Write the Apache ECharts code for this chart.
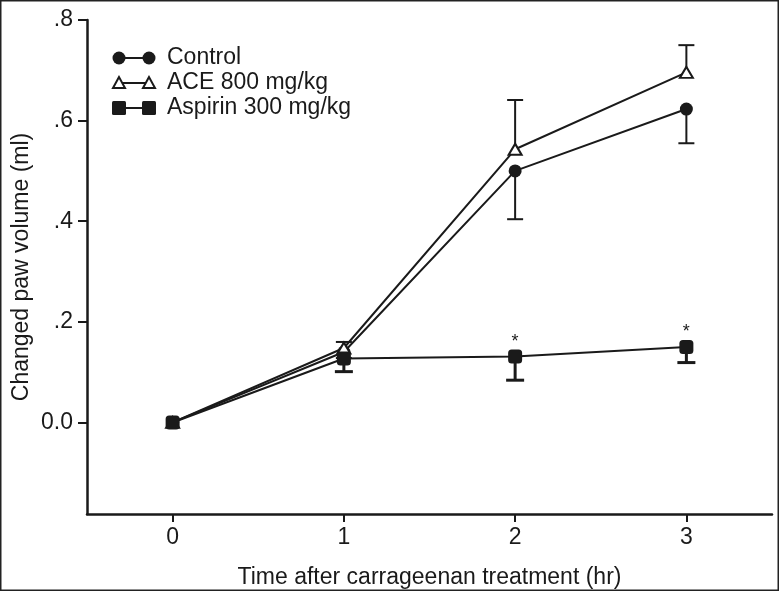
<!DOCTYPE html>
<html><head><meta charset="utf-8">
<script src="https://cdn.jsdelivr.net/npm/echarts@6/dist/echarts.min.js"></script>
<style>html,body{margin:0;padding:0;background:#fff}#c{width:779px;height:591px}</style>
</head><body><div id="c"></div>
<script>
const times = [0, 1, 2, 3];
const xTicks = [0, 1, 2, 3];
const yTicks = [0, 0.2, 0.4, 0.6, 0.8];
const yTickLabels = ['0.0', '.2', '.4', '.6', '.8'];
const control = [0, 0.14, 0.50, 0.623];
const controlSem = [0, 0.012, 0.096, 0.068];
const ace = [0, 0.148, 0.543, 0.696];
const aceSem = [0, 0.012, 0.098, 0.054];
const aspirin = [0, 0.127, 0.131, 0.150];
const aspirinSem = [0, 0.026, 0.047, 0.031];
const sigTimes = [2, 3];
const legendNames = ['Control', 'ACE 800 mg/kg', 'Aspirin 300 mg/kg'];

const FONT = '"Liberation Sans", Arial, sans-serif';
const INK = '#1a1a1a';
const FS = 23;

function pairs(xs, ys) { return xs.map((x, i) => [x, ys[i]]); }
function errData(means, sems, dir) {
  return times.map((t, i) => [t, means[i], means[i] + dir * sems[i]]).filter((d, i) => sems[i] > 0);
}
function errSeries(data, lw, capW) {
  return {
    type: 'custom', data: data, z: 1,
    renderItem: function (params, api) {
      const p0 = api.coord([api.value(0), api.value(1)]);
      const p1 = api.coord([api.value(0), api.value(2)]);
      const st = { stroke: INK, lineWidth: lw };
      return { type: 'group', children: [
        { type: 'line', shape: { x1: p0[0], y1: p0[1], x2: p1[0], y2: p1[1] }, style: st },
        { type: 'line', shape: { x1: p1[0] - capW / 2, y1: p1[1], x2: p1[0] + capW / 2, y2: p1[1] }, style: st }
      ]};
    }
  };
}

const chart = echarts.init(document.getElementById('c'), null, { renderer: 'canvas' });

const legendY = [58, 83, 108];
const legendGraphics = [];
const lx1 = 119, lx2 = 149, ltx = 167;
legendNames.forEach((name, i) => {
  const y = legendY[i];
  legendGraphics.push({ type: 'line', shape: { x1: lx1, y1: y, x2: lx2, y2: y }, style: { stroke: INK, lineWidth: 2 } });
  [lx1, lx2].forEach(x => {
    if (i === 0) legendGraphics.push({ type: 'circle', shape: { cx: x, cy: y, r: 6.5 }, style: { fill: INK } });
    if (i === 1) legendGraphics.push({ type: 'polygon', shape: { points: [[x, y - 6], [x - 6, y + 5], [x + 6, y + 5]] }, style: { fill: '#fff', stroke: INK, lineWidth: 2 } });
    if (i === 2) legendGraphics.push({ type: 'rect', shape: { x: x - 7, y: y - 7, width: 14, height: 14, r: 1.5 }, style: { fill: INK } });
  });
  legendGraphics.push({ type: 'text', x: ltx, y: y, style: { text: name, font: FS + 'px ' + FONT, fill: INK, textVerticalAlign: 'middle' } });
});
legendGraphics.push({ type: 'rect', shape: { x: 0.75, y: 0.75, width: 777.5, height: 589.5 }, style: { fill: 'none', stroke: '#222', lineWidth: 1.5 }, silent: true });

chart.setOption({
  animation: false,
  backgroundColor: '#fff',
  grid: { left: 87, right: 7, top: 20, bottom: 77, containLabel: false, outerBoundsMode: 'none' },
  xAxis: {
    type: 'value', min: -0.5, max: 3.5,
    name: 'Time after carrageenan treatment (hr)', nameLocation: 'middle', nameGap: 52,
    nameTextStyle: { fontFamily: FONT, fontSize: FS, color: INK },
    axisLine: { onZero: false, lineStyle: { color: INK, width: 2.5 } },
    axisTick: { customValues: xTicks, length: 8, lineStyle: { color: INK, width: 2 } },
    axisLabel: { customValues: xTicks, margin: 12, fontFamily: FONT, fontSize: FS, color: INK },
    splitLine: { show: false }
  },
  yAxis: {
    type: 'value', min: -0.182, max: 0.8,
    name: 'Changed paw volume (ml)', nameLocation: 'middle', nameGap: 54, nameRotate: 90, nameMoveOverlap: false,
    nameTextStyle: { fontFamily: FONT, fontSize: FS, color: INK },
    axisLine: { show: true, onZero: false, lineStyle: { color: INK, width: 2.5 } },
    axisTick: { show: true, customValues: yTicks, length: 9, lineStyle: { color: INK, width: 2 } },
    axisLabel: { customValues: yTicks, margin: 14, fontFamily: FONT, fontSize: FS, color: INK,
      formatter: v => { const i = yTicks.findIndex(t => Math.abs(t - v) < 1e-6); return i >= 0 ? yTickLabels[i] : ''; } },
    splitLine: { show: false }
  },
  graphic: legendGraphics,
  series: [
    errSeries(errData(control, controlSem, -1), 2, 16),
    errSeries(errData(ace, aceSem, 1), 2, 16),
    errSeries(errData(aspirin, aspirinSem, -1), 3, 18),
    { type: 'line', name: legendNames[0], data: pairs(times, control), z: 3,
      symbol: 'circle', symbolSize: 13, lineStyle: { color: INK, width: 2 }, itemStyle: { color: INK } },
    { type: 'line', name: legendNames[1], data: pairs(times, ace), z: 4,
      symbol: 'triangle', symbolSize: [13, 11], lineStyle: { color: INK, width: 2 },
      itemStyle: { color: '#fff', borderColor: INK, borderWidth: 2 } },
    { type: 'line', name: legendNames[2], data: pairs(times, aspirin), z: 5,
      symbol: 'roundRect', symbolSize: 14, lineStyle: { color: INK, width: 2 }, itemStyle: { color: INK } },
    { type: 'custom', z: 6,
      data: sigTimes.map(t => { const i = times.indexOf(t); return [t, aspirin[i]]; }),
      renderItem: function (params, api) {
        const p = api.coord([api.value(0), api.value(1)]);
        return { type: 'text', x: p[0], y: p[1] - 15, style: { text: '*', font: '18px ' + FONT, fill: INK, textAlign: 'center', textVerticalAlign: 'middle' } };
      } }
  ]
});
</script></body></html>
